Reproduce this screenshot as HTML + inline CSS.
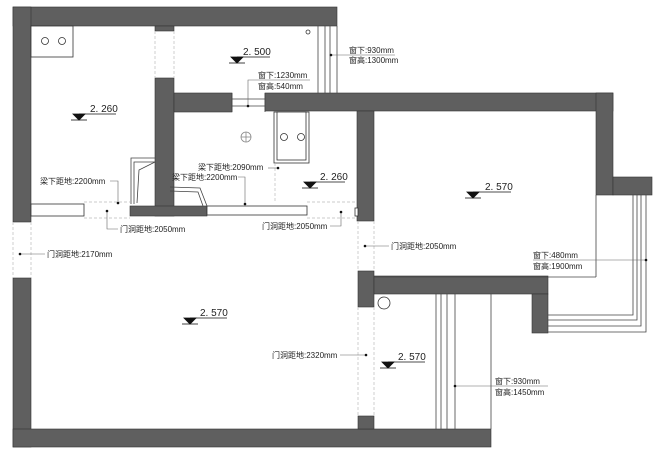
<!DOCTYPE html>
<html><head><meta charset="utf-8"><style>
html,body{margin:0;padding:0;background:#fff;}
svg{display:block;}
text{font-family:"Liberation Sans","Noto Sans CJK SC",sans-serif;fill:#222;}
.l{font-size:8px;}
.e{font-size:10px;}
</style></head><body>
<svg width="660" height="453" viewBox="0 0 660 453" xmlns="http://www.w3.org/2000/svg">
<g fill="#5f5f5f" stroke="#333" stroke-width="0.6">
<!-- top wall -->
<rect x="13" y="7" width="324" height="19"/>
<rect x="155" y="26" width="19" height="5"/>
<!-- left wall -->
<rect x="13" y="7" width="18" height="215"/>
<rect x="13" y="278" width="18" height="169"/>
<!-- bottom wall -->
<rect x="13" y="429" width="478" height="18"/>
<!-- interior column -->
<rect x="155" y="78" width="19" height="138"/>
<rect x="174" y="93" width="58" height="19"/>
<rect x="265" y="93" width="348" height="18"/>
<rect x="596" y="93" width="17" height="102"/>
<rect x="613" y="177" width="39" height="18"/>
<rect x="357" y="111" width="17" height="110"/>
<rect x="130" y="206" width="77" height="10"/>
<!-- lower right -->
<rect x="358" y="271" width="16" height="36"/>
<rect x="374" y="276" width="174" height="18"/>
<rect x="532" y="294" width="16" height="39"/>
<rect x="358" y="416" width="16" height="13"/>
</g>
<g fill="#fff" stroke="#333" stroke-width="0.8">
<rect x="31" y="204" width="53" height="12"/>
<rect x="207" y="206" width="100" height="9"/>
<rect x="355" y="208" width="3" height="8"/>
<rect x="31" y="26" width="42" height="31"/>
<rect x="274" y="112" width="35" height="51"/>
<rect x="277" y="112" width="29" height="48"/>
<circle cx="45" cy="41" r="3.5"/><circle cx="62" cy="41" r="3.5"/>
<circle cx="284" cy="137" r="3.5"/><circle cx="301" cy="137" r="3.5"/>
<circle cx="308" cy="32" r="2"/>
<circle cx="246" cy="137" r="5" stroke="#888"/>
<circle cx="384" cy="303" r="6"/>
</g>
<g fill="none" stroke="#444" stroke-width="0.8">
<line x1="241" y1="137" x2="251" y2="137" stroke="#888"/><line x1="246" y1="132" x2="246" y2="142" stroke="#888"/>
<!-- top-right window -->
<line x1="318" y1="26" x2="318" y2="93"/><line x1="325" y1="26" x2="325" y2="93"/><line x1="330" y1="26" x2="330" y2="93"/><line x1="337" y1="26" x2="337" y2="93"/>
<!-- middle window -->
<line x1="232" y1="99" x2="265" y2="99"/><line x1="232" y1="106" x2="265" y2="106"/>
<line x1="232" y1="93" x2="232" y2="112"/><line x1="265" y1="93" x2="265" y2="112"/>
<!-- right room edges -->
<line x1="596" y1="195" x2="596" y2="277"/><line x1="374" y1="277" x2="596" y2="277"/>
<line x1="491" y1="294" x2="491" y2="429"/>
<!-- bay window -->
<polyline points="633,195 633,315 548,315"/><polyline points="637,195 637,320 548,320"/>
<polyline points="641,195 641,326 548,326"/><polyline points="646,195 646,332 548,332"/>
<line x1="652" y1="195" x2="652" y2="195"/>
<!-- lower window -->
<line x1="436" y1="294" x2="436" y2="429"/><line x1="441" y1="294" x2="441" y2="429"/><line x1="447" y1="294" x2="447" y2="429"/><line x1="455" y1="294" x2="455" y2="429"/>
<!-- door shapes -->
<polyline points="131,204 131,158 155,158"/><polyline points="134,204 134,162 155,162"/>
<polyline points="137,203 139,170 155,162"/>
<polyline points="170,187 200,188 207,206"/><polyline points="170,191 198,192 203,206"/>
</g>
<!-- dashed door lines -->
<g stroke="#bbb" stroke-width="0.7" stroke-dasharray="3,2" fill="none">
<line x1="13" y1="222" x2="13" y2="278"/><line x1="31" y1="222" x2="31" y2="278"/>
<line x1="84" y1="202" x2="130" y2="202"/><line x1="84" y1="218" x2="130" y2="218"/>
<line x1="307" y1="202" x2="357" y2="202"/><line x1="307" y1="218" x2="357" y2="218"/>
<line x1="358" y1="221" x2="358" y2="271"/><line x1="374" y1="221" x2="374" y2="271"/>
<line x1="358" y1="307" x2="358" y2="416"/><line x1="374" y1="307" x2="374" y2="416"/>
<line x1="155" y1="31" x2="155" y2="78"/><line x1="174" y1="31" x2="174" y2="78"/>
<line x1="275" y1="163" x2="275" y2="202"/>
</g>
<!-- leaders -->
<g stroke="#666" stroke-width="0.6" fill="none">
<line x1="331" y1="55" x2="395" y2="55"/>
<polyline points="248,106 248,80 310,80"/>
<polyline points="110,181 118,181 118,203"/>
<line x1="268" y1="168" x2="278" y2="168"/>
<polyline points="238,177 245,177 245,204"/>
<polyline points="107,211 107,229 118,229"/>
<polyline points="330,226 341,226 341,212"/>
<line x1="365" y1="246" x2="389" y2="246"/>
<line x1="20" y1="254" x2="45" y2="254"/>
<line x1="340" y1="355" x2="366" y2="355"/>
<line x1="533" y1="260" x2="646" y2="260"/>
<line x1="455" y1="386" x2="548" y2="386"/>
</g>
<g fill="#111">
<circle cx="331" cy="55" r="1.3"/><circle cx="248" cy="106" r="1.3"/><circle cx="118" cy="203" r="1.3"/>
<circle cx="278" cy="168" r="1.3"/><circle cx="245" cy="204" r="1.3"/><circle cx="107" cy="211" r="1.3"/>
<circle cx="341" cy="212" r="1.3"/><circle cx="365" cy="246" r="1.3"/><circle cx="20" cy="254" r="1.3"/>
<circle cx="366" cy="355" r="1.3"/><circle cx="646" cy="260" r="1.3"/><circle cx="455" cy="386" r="1.3"/>
</g>
<!-- elevation markers -->
<g fill="#111" stroke="#111" stroke-width="0.8">
<polygon points="231,57 243,57 237,63"/><line x1="229" y1="63" x2="245" y2="63"/><line x1="237" y1="57" x2="270" y2="57"/>
<polygon points="73,114 85,114 79,120"/><line x1="71" y1="120" x2="87" y2="120"/><line x1="79" y1="114" x2="116" y2="114"/>
<polygon points="304,182 316,182 310,188"/><line x1="302" y1="188" x2="318" y2="188"/><line x1="310" y1="182" x2="345" y2="182"/>
<polygon points="467,192 479,192 473,198"/><line x1="465" y1="198" x2="481" y2="198"/><line x1="473" y1="192" x2="511" y2="192"/>
<polygon points="184,318 196,318 190,324"/><line x1="182" y1="324" x2="198" y2="324"/><line x1="190" y1="318" x2="227" y2="318"/>
<polygon points="382,362 394,362 388,368"/><line x1="380" y1="368" x2="396" y2="368"/><line x1="388" y1="362" x2="425" y2="362"/>
</g>
<g class="e">
<text x="243" y="55">2. 500</text>
<text x="90" y="112">2. 260</text>
<text x="320" y="180">2. 260</text>
<text x="485" y="190">2. 570</text>
<text x="200" y="316">2. 570</text>
<text x="398" y="360">2. 570</text>
</g>
<g class="l">
<text x="349" y="53">窗下:930mm</text><text x="349" y="63">窗高:1300mm</text>
<text x="258" y="78">窗下:1230mm</text><text x="258" y="89">窗高:540mm</text>
<text x="40" y="184">梁下距地:2200mm</text>
<text x="198" y="170">梁下距地:2090mm</text>
<text x="172" y="180">梁下距地:2200mm</text>
<text x="120" y="232">门洞距地:2050mm</text>
<text x="262" y="229">门洞距地:2050mm</text>
<text x="391" y="249">门洞距地:2050mm</text>
<text x="47" y="257">门洞距地:2170mm</text>
<text x="272" y="358">门洞距地:2320mm</text>
<text x="533" y="258">窗下:480mm</text><text x="533" y="269">窗高:1900mm</text>
<text x="495" y="384">窗下:930mm</text><text x="495" y="395">窗高:1450mm</text>
</g>
</svg>
</body></html>
